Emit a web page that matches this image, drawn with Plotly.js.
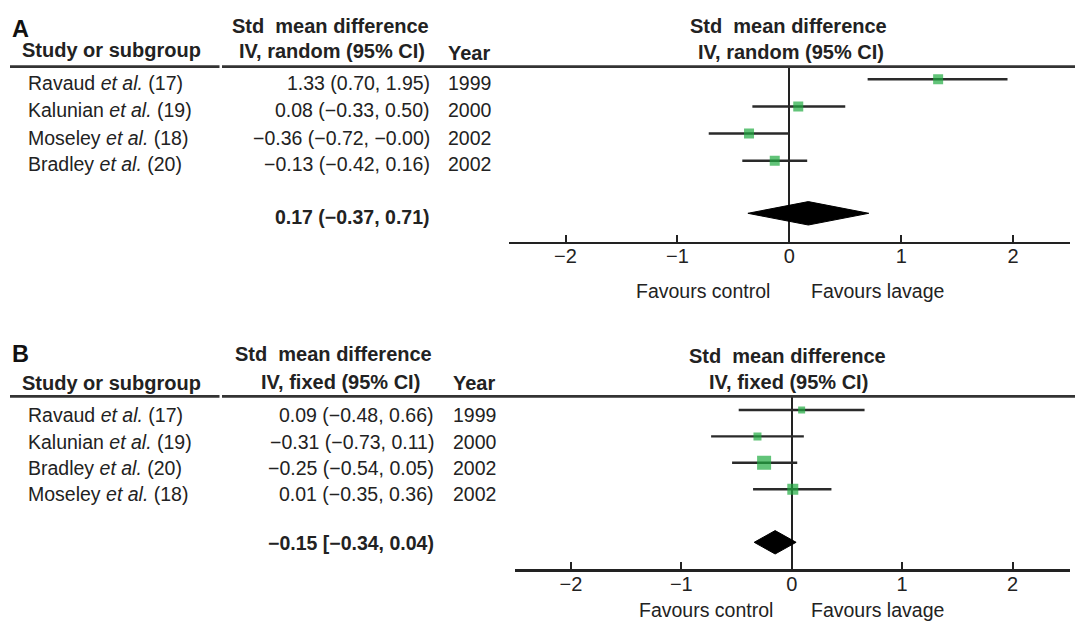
<!DOCTYPE html>
<html>
<head>
<meta charset="utf-8">
<script src="https://cdn.plot.ly/plotly-3.0.1.min.js"></script>
<style>html,body{margin:0;padding:0;background:#fff;}#chart{width:1075px;height:622px;}</style>
</head>
<body>
<div id="chart"></div>
<script>
// ---------------- DATA ----------------
// Panel A: random effects
const studiesA = ['Ravaud', 'Kalunian', 'Moseley', 'Bradley'];
const refsA = [17, 19, 18, 20];
const yearsA = [1999, 2000, 2002, 2002];
const estA = [1.33, 0.08, -0.36, -0.13];
const lowA = [0.70, -0.33, -0.72, -0.42];
const highA = [1.95, 0.50, -0.00, 0.16];
const pooledA = [0.17, -0.37, 0.71]; // estimate, lower, upper
// Panel B: fixed effects
const studiesB = ['Ravaud', 'Kalunian', 'Bradley', 'Moseley'];
const refsB = [17, 19, 20, 18];
const yearsB = [1999, 2000, 2002, 2002];
const estB = [0.09, -0.31, -0.25, 0.01];
const lowB = [-0.48, -0.73, -0.54, -0.35];
const highB = [0.66, 0.11, 0.05, 0.36];
const pooledB = [-0.15, -0.34, 0.04];
// Axis ticks
const tickVals = [-2, -1, 0, 1, 2];
// Texts
const methodA = 'IV, random (95% CI)';
const methodB = 'IV, fixed (95% CI)';
const effectTitle = 'Std\u00a0 mean difference';
const favLeft = 'Favours control';
const favRight = 'Favours lavage';
</script>
<script>
const W = 1075, H = 622;
const FONT = 'Liberation Sans, Arial, Helvetica, sans-serif';
const TXT = '#222';
const GREEN = '#1fab40';
const LINE = '#222';
const px = x => x / W;
const py = y => 1 - y / H;

function fmt(v) {
  const s = Math.abs(v).toFixed(2);
  return (v < 0 || Object.is(v, -0)) ? '\u2212' + s : s;
}

// layout geometry (pixels)
const P = {
  A: {top: 66.7, bottom: 241.7, left: 509, right: 1070, zero: 789.3, unit: 111.9,
      row1: 79.3, sp: 27.13, poolPx: 213.3, halfH: 11.7,
      textRows: [83, 110, 137.5, 164], poolText: 216.5, valRight: 431, yearLeft: 447,
      letterY: 29, h1: 26, h2: 51, studyY: 50, yearY: 53, rtitle1: 26, rtitle2: 51.7,
      rtitleX: 788, ltitleX: 330, lIVx: 332,
      sizes: [10, 10, 10, 10]},
  B: {top: 396.3, bottom: 569, left: 515, right: 1070, zero: 791.7, unit: 110.4,
      row1: 410, sp: 26.4, poolPx: 542.3, halfH: 11.7,
      textRows: [415, 442, 468, 494], poolText: 543, valRight: 435, yearLeft: 451.7,
      letterY: 354, h1: 354, h2: 382, studyY: 382.5, yearY: 382.5, rtitle1: 356, rtitle2: 381.7,
      rtitleX: 787, ltitleX: 333, lIVx: 340,
      sizes: [7, 8, 14, 11]}
};
const FAV = {A: 291, B: 610};

function yIdx(p, ypx) { return 1 + (ypx - p.row1) / p.sp; }

const traces = [];
const annotations = [];
const shapes = [];

function panel(key, xa, ya, est, low, high, pooled) {
  const p = P[key];
  const idx = est.map((_, i) => i + 1);
  // whiskers (confidence intervals) first, so squares sit on top
  traces.push({
    type: 'scatter', mode: 'markers', x: est, y: idx, xaxis: xa, yaxis: ya,
    marker: {size: 1, opacity: 0},
    error_x: {type: 'data', symmetric: false,
      array: high.map((h, i) => h - est[i]), arrayminus: low.map((l, i) => est[i] - l),
      width: 0, thickness: 2.4, color: '#2a2a2a'},
    hoverinfo: 'skip', showlegend: false
  });
  traces.push({
    type: 'scatter', mode: 'markers', x: est, y: idx, xaxis: xa, yaxis: ya,
    marker: {symbol: 'square', size: p.sizes, color: GREEN, line: {width: 0}},
    hoverinfo: 'skip', showlegend: false
  });
  const yp = yIdx(p, p.poolPx);
  const dh = p.halfH / p.sp;
  traces.push({
    type: 'scatter', mode: 'lines', xaxis: xa, yaxis: ya,
    x: [pooled[1], pooled[0], pooled[2], pooled[0], pooled[1]],
    y: [yp, yp - dh, yp, yp + dh, yp],
    fill: 'toself', fillcolor: '#000', line: {color: '#000', width: 1},
    hoverinfo: 'skip', showlegend: false
  });
}
panel('A', 'x', 'y', estA, lowA, highA, pooledA);
panel('B', 'x2', 'y2', estB, lowB, highB, pooledB);

function ann(text, x, y, xanchor, size, bold, color) {
  annotations.push({
    text: bold ? '<b>' + text + '</b>' : text,
    x: px(x), y: py(y), xref: 'paper', yref: 'paper',
    xanchor: xanchor, yanchor: 'middle', showarrow: false,
    font: {family: FONT, size: size, color: color || TXT}, borderpad: 0
  });
}

function tableText(key, letter, method, studies, refs, years, est, low, high, pooled, openBr) {
  const p = P[key];
  ann(letter, 10.5, p.letterY, 'left', 23.5, true, '#111');
  ann(effectTitle, p.ltitleX, p.h1, 'center', 20, true);
  ann(method, p.lIVx, p.h2, 'center', 20, true);
  ann('Study or subgroup', 20.5, p.studyY, 'left', 20, true);
  ann('Year', p.yearLeft, p.yearY, 'left', 20, true);
  ann(effectTitle, p.rtitleX, p.rtitle1, 'center', 20, true);
  ann(method, p.rtitleX + (key === 'A' ? 3 : 1), p.rtitle2, 'center', 20, true);
  studies.forEach((s, i) => {
    const y = p.textRows[i];
    ann(s + ' <i>et al.</i> (' + refs[i] + ')', 26.5, y, 'left', 19.5, false);
    ann(fmt(est[i]) + ' (' + fmt(low[i]) + ', ' + fmt(high[i]) + ')', p.valRight, y, 'right', 19.5, false);
    ann(String(years[i]), p.yearLeft, y, 'left', 19.5, false);
  });
  ann(fmt(pooled[0]) + ' ' + openBr + fmt(pooled[1]) + ', ' + fmt(pooled[2]) + ')', p.valRight, p.poolText, 'right', 19.5, true);
  ann(favLeft, p.zero - 18, FAV[key], 'right', 19.5, false);
  ann(favRight, 810, FAV[key], 'left', 19.5, false);
  // header rule
  const ry = py(p.top);
  shapes.push({type: 'line', xref: 'paper', yref: 'paper', x0: px(10), x1: px(219.5), y0: ry, y1: ry, line: {color: '#333', width: 2.8}});
  shapes.push({type: 'line', xref: 'paper', yref: 'paper', x0: px(222), x1: 1, y0: ry, y1: ry, line: {color: '#333', width: 2.8}});
}
tableText('A', 'A', methodA, studiesA, refsA, yearsA, estA, lowA, highA, pooledA, '(');
tableText('B', 'B', methodB, studiesB, refsB, yearsB, estB, lowB, highB, pooledB, '[');

function xaxis(p) {
  return {
    domain: [px(p.left), px(p.right)],
    range: [(p.left - p.zero) / p.unit, (p.right - p.zero) / p.unit],
    tickmode: 'array', tickvals: tickVals, ticktext: tickVals.map(v => v < 0 ? '\u2212' + Math.abs(v) : String(v)),
    ticks: 'inside', ticklen: 7, tickwidth: 2, tickcolor: LINE,
    ticklabelstandoff: -5,
    showline: true, linecolor: LINE, linewidth: 2.5,
    showgrid: false, zeroline: true, zerolinecolor: LINE, zerolinewidth: 2,
    tickfont: {family: FONT, size: 20, color: TXT},
    fixedrange: true
  };
}
function yaxis(p) {
  return {
    domain: [py(p.bottom), py(p.top)],
    range: [yIdx(p, p.bottom), yIdx(p, p.top)],
    visible: false, showgrid: false, zeroline: false, fixedrange: true
  };
}

const layout = {
  width: W, height: H,
  margin: {l: 0, r: 0, t: 0, b: 0},
  paper_bgcolor: '#fff', plot_bgcolor: '#fff',
  showlegend: false,
  xaxis: Object.assign(xaxis(P.A), {anchor: 'y'}),
  yaxis: Object.assign(yaxis(P.A), {anchor: 'x'}),
  xaxis2: Object.assign(xaxis(P.B), {anchor: 'y2'}),
  yaxis2: Object.assign(yaxis(P.B), {anchor: 'x2'}),
  annotations: annotations,
  shapes: shapes,
  font: {family: FONT}
};

Plotly.newPlot('chart', traces, layout, {staticPlot: true, displayModeBar: false});
</script>
</body>
</html>
